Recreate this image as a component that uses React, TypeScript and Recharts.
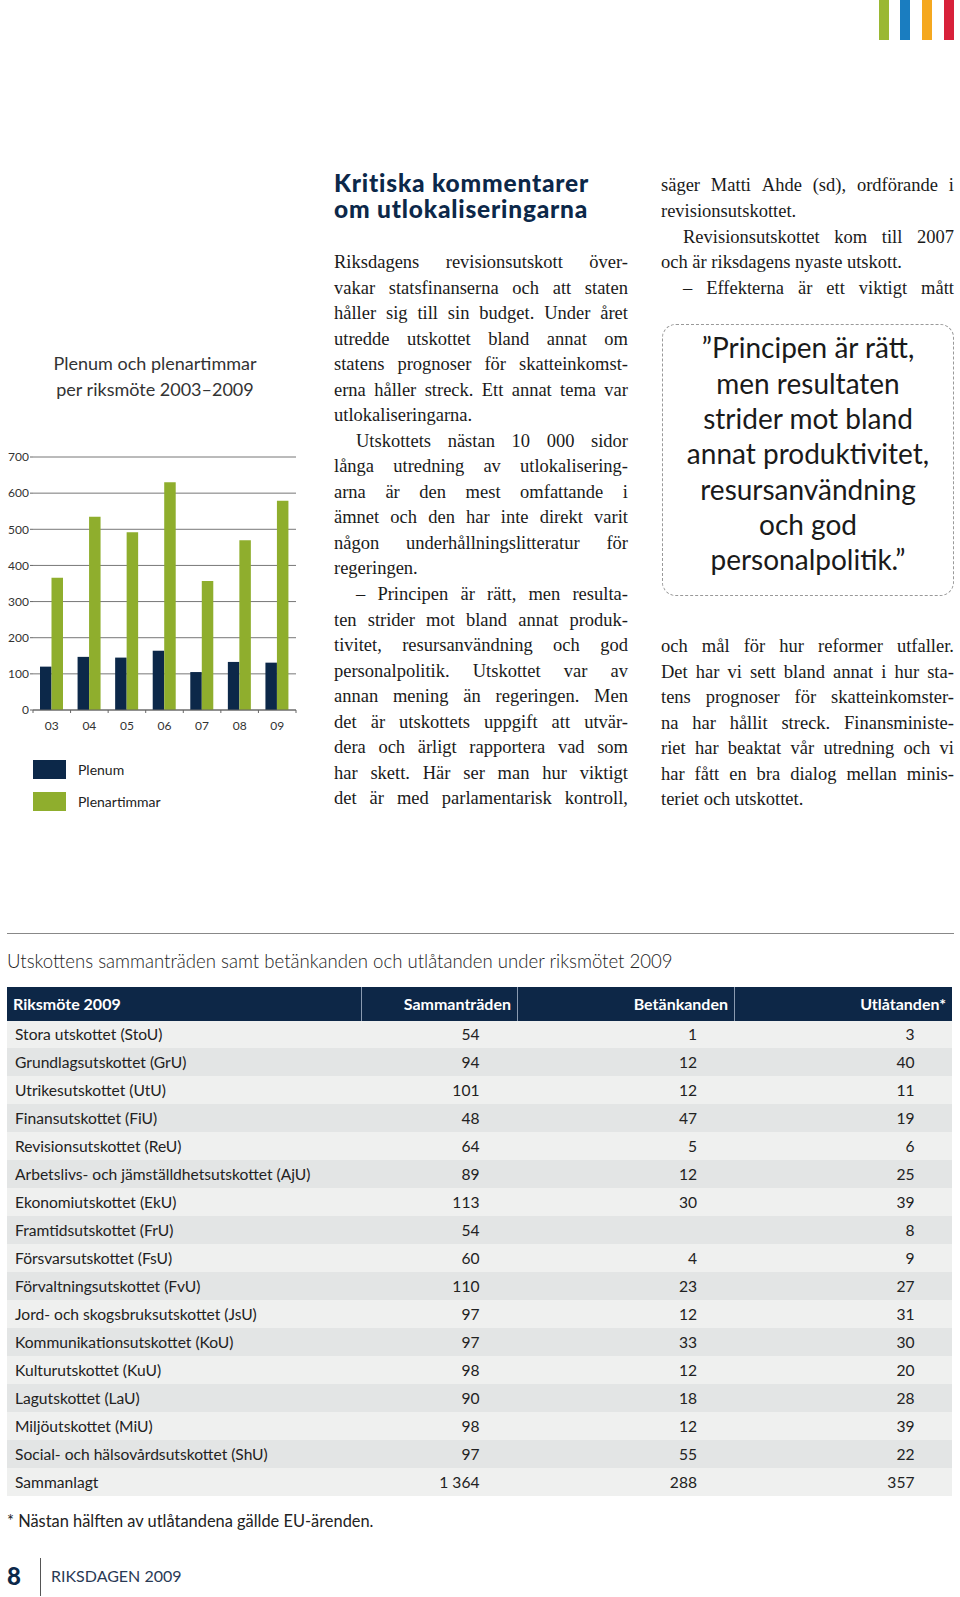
import { BarChart, Bar, XAxis, YAxis, CartesianGrid } from 'recharts';

// chart data
const years = ['03', '04', '05', '06', '07', '08', '09'];
const plenum = [120, 147, 145, 164, 105, 133, 131];
const plenartimmar = [366, 535, 492, 630, 357, 470, 579];
const yTicks = [0, 100, 200, 300, 400, 500, 600, 700];
const seriesNames = ['Plenum', 'Plenartimmar'];

// table data
const committees = [
  'Stora utskottet (StoU)', 'Grundlagsutskottet (GrU)', 'Utrikesutskottet (UtU)',
  'Finansutskottet (FiU)', 'Revisionsutskottet (ReU)',
  'Arbetslivs- och jämställdhetsutskottet (AjU)', 'Ekonomiutskottet (EkU)',
  'Framtidsutskottet (FrU)', 'Försvarsutskottet (FsU)', 'Förvaltningsutskottet (FvU)',
  'Jord- och skogsbruksutskottet (JsU)', 'Kommunikationsutskottet (KoU)',
  'Kulturutskottet (KuU)', 'Lagutskottet (LaU)', 'Miljöutskottet (MiU)',
  'Social- och hälsovårdsutskottet (ShU)', 'Sammanlagt',
];
const sammantraden = ['54', '94', '101', '48', '64', '89', '113', '54', '60', '110', '97', '97', '98', '90', '98', '97', '1 364'];
const betankanden = ['1', '12', '12', '47', '5', '12', '30', '', '4', '23', '12', '33', '12', '18', '12', '55', '288'];
const utlatanden = ['3', '40', '11', '19', '6', '25', '39', '8', '9', '27', '31', '30', '20', '28', '39', '22', '357'];
const tableHead = ['Riksmöte 2009', 'Sammanträden', 'Betänkanden', 'Utlåtanden*'];

const chartData = years.map((y, i) => ({ year: y, plenum: plenum[i], timmar: plenartimmar[i] }));

const NAVY = '#0c2849';
const GREEN = '#8fae2d';
const SANS = 'Lato, "Noto Sans", sans-serif';
const SERIF = '"Liberation Serif", "DejaVu Serif", serif';

// body text, line by line: j = justified, i = indented
type Ln = { t: string; j?: boolean; i?: boolean };
const midLines: Ln[] = [
  { t: 'Riksdagens revisionsutskott över-', j: true },
  { t: 'vakar statsfinanserna och att staten', j: true },
  { t: 'håller sig till sin budget. Under året', j: true },
  { t: 'utredde utskottet bland annat om', j: true },
  { t: 'statens prognoser för skatteinkomst-', j: true },
  { t: 'erna håller streck. Ett annat tema var', j: true },
  { t: 'utlokaliseringarna.' },
  { t: 'Utskottets nästan 10 000 sidor', j: true, i: true },
  { t: 'långa utredning av utlokalisering-', j: true },
  { t: 'arna är den mest omfattande i', j: true },
  { t: 'ämnet och den har inte direkt varit', j: true },
  { t: 'någon underhållningslitteratur för', j: true },
  { t: 'regeringen.' },
  { t: '– Principen är rätt, men resulta-', j: true, i: true },
  { t: 'ten strider mot bland annat produk-', j: true },
  { t: 'tivitet, resursanvändning och god', j: true },
  { t: 'personalpolitik. Utskottet var av', j: true },
  { t: 'annan mening än regeringen. Men', j: true },
  { t: 'det är utskottets uppgift att utvär-', j: true },
  { t: 'dera och ärligt rapportera vad som', j: true },
  { t: 'har skett. Här ser man hur viktigt', j: true },
  { t: 'det är med parlamentarisk kontroll,', j: true },
];
const rightTop: Ln[] = [
  { t: 'säger Matti Ahde (sd), ordförande i', j: true },
  { t: 'revisionsutskottet.' },
  { t: 'Revisionsutskottet kom till 2007', j: true, i: true },
  { t: 'och är riksdagens nyaste utskott.' },
  { t: '– Effekterna är ett viktigt mått', j: true, i: true },
];
const rightBottom: Ln[] = [
  { t: 'och mål för hur reformer utfaller.', j: true },
  { t: 'Det har vi sett bland annat i hur sta-', j: true },
  { t: 'tens prognoser för skatteinkomster-', j: true },
  { t: 'na har hållit streck. Finansministe-', j: true },
  { t: 'riet har beaktat vår utredning och vi', j: true },
  { t: 'har fått en bra dialog mellan minis-', j: true },
  { t: 'teriet och utskottet.' },
];
const quoteLines = ['”Principen är rätt,', 'men resultaten', 'strider mot bland', 'annat produktivitet,', 'resursanvändning', 'och god', 'personalpolitik.”'];
const headingLines = ['Kritiska kommentarer', 'om utlokaliseringarna'];

function TextBlock({ lines, left, top, width }: { lines: Ln[]; left: number; top: number; width: number }) {
  const lh = 25.54;
  return (
    <div style={{ position: 'absolute', left, top: top - lh / 2, width, fontFamily: SERIF, fontSize: 18.5, color: '#1a1a1a' }}>
      {lines.map((l, k) => (
        <div key={k} style={{
          height: lh, display: 'flex', alignItems: 'center', whiteSpace: 'nowrap',
          justifyContent: l.j ? 'space-between' : 'flex-start', paddingLeft: l.i ? 22 : 0,
        }}>
          {l.j ? l.t.split(' ').map((w, n) => <span key={n}>{w}</span>) : <span>{l.t}</span>}
        </div>
      ))}
    </div>
  );
}

function YearTick(props: any) {
  const { x, y, payload } = props;
  const half = payload?.offset ?? 0;
  return (
    <g>
      {payload.index === 0 && <line x1={x - half} x2={x - half} y1={y} y2={y + 3} stroke="#666" />}
      <line x1={x + half} x2={x + half} y1={y} y2={y + 3} stroke="#666" />
      <text x={x} y={y + 15} textAnchor="middle" dominantBaseline="central" fontSize={12} fill="#333" fontFamily={SANS}>
        {payload.value}
      </text>
    </g>
  );
}

export default function App() {
  const abs = (left: number, top: number, extra: any = {}) => ({ position: 'absolute' as const, left, top, ...extra });
  return (
    <div style={{ position: 'absolute', left: 0, top: 0, width: 960, height: 1597, background: '#fff', overflow: 'hidden', fontFamily: SANS }}>
      {/* colour bars */}
      <div style={abs(879, 0, { width: 10, height: 40, background: '#9ab833' })} />
      <div style={abs(900, 0, { width: 10, height: 40, background: '#1a7dc0' })} />
      <div style={abs(922, 0, { width: 10, height: 40, background: '#f5a81f' })} />
      <div style={abs(944, 0, { width: 10, height: 40, background: '#d8213a' })} />

      {/* chart title */}
      <div style={abs(0, 350, { width: 310, textAlign: 'center', fontSize: 18, lineHeight: '26px', color: '#333' })}>
        Plenum och plenartimmar<br />per riksmöte 2003–2009
      </div>

      <div style={abs(0, 440)}>
        <BarChart width={310} height={300} data={chartData} margin={{ top: 17, right: 14, left: 0, bottom: 0 }} barGap={0}>
          <CartesianGrid vertical={false} stroke="#777" />
          <XAxis
            dataKey="year" height={30} tickSize={0} tickMargin={0} interval={0}
            axisLine={{ stroke: '#666' }} tickLine={false} tick={<YearTick />}
          />
          <YAxis
            domain={[0, 700]} ticks={yTicks} interval={0} width={33} tickSize={3} tickMargin={1}
            axisLine={false} tickLine={{ stroke: '#666' }}
            tick={{ fill: '#333', fontSize: 12, fontFamily: SANS }}
          />
          <Bar dataKey="plenum" name={seriesNames[0]} fill={NAVY} barSize={11.5} isAnimationActive={false} />
          <Bar dataKey="timmar" name={seriesNames[1]} fill={GREEN} barSize={11.5} isAnimationActive={false} />
        </BarChart>
      </div>

      {/* legend */}
      {seriesNames.map((n, k) => (
        <div key={n}>
          <div style={abs(33, 760 + k * 32, { width: 33, height: 19, background: k === 0 ? NAVY : GREEN })} />
          <div style={abs(78, 760 + k * 32, { height: 19, lineHeight: '19px', fontSize: 14, color: '#222' })}>{n}</div>
        </div>
      ))}

      {/* heading */}
      {headingLines.map((h, k) => (
        <div key={h} style={abs(334, 170 + k * 26, { fontSize: 24.5, lineHeight: '26px', height: 26, letterSpacing: 0.8, fontWeight: 900, color: NAVY, whiteSpace: 'nowrap' })}>
          {h}
        </div>
      ))}

      <TextBlock lines={midLines} left={334} top={262.6} width={294} />
      <TextBlock lines={rightTop} left={661} top={186} width={293} />
      <TextBlock lines={rightBottom} left={661} top={646.5} width={293} />

      {/* quote box */}
      <div style={abs(662, 324, { width: 290, height: 270, border: '1px dashed #999', borderRadius: 14 })} />
      {quoteLines.map((q, k) => (
        <div key={k} style={abs(662, 348 + k * 35.3 - 17.65, { width: 292, height: 35.3, lineHeight: '35.3px', textAlign: 'center', fontSize: 28, color: '#1a1a1a' })}>
          {q}
        </div>
      ))}

      {/* table */}
      <div style={abs(7, 933, { width: 947, height: 1, background: '#888' })} />
      <div style={abs(7, 950, { fontSize: 18.6, lineHeight: '22px', color: '#222', fontWeight: 300 })}>
        Utskottens sammanträden samt betänkanden och utlåtanden under riksmötet 2009
      </div>
      <div style={abs(7, 987, { width: 945, height: 33.5, background: '#0d2747', display: 'flex', color: '#fff', fontSize: 16, fontWeight: 700 })}>
        {tableHead.map((h, k) => (
          <div key={h} style={{
            width: [353.5, 156.5, 217, 218][k], lineHeight: '33.5px', textAlign: k === 0 ? 'left' : 'right',
            paddingLeft: k === 0 ? 6 : 0, paddingRight: k === 0 ? 0 : 6, boxSizing: 'border-box',
            borderLeft: k === 0 ? 'none' : '1px solid #8a9ab0',
          }}>{h}</div>
        ))}
      </div>
      {committees.map((c, r) => (
        <div key={c} style={abs(7, 1020.5 + r * 27.96, {
          width: 945, height: 27.96, display: 'flex', alignItems: 'center', fontSize: 15.6, color: '#222',
          background: r % 2 === 0 ? '#eff0ef' : '#e3e5e5',
        })}>
          <div style={{ width: 353.5, paddingLeft: 8, boxSizing: 'border-box' }}>{c}</div>
          <div style={{ width: 119, textAlign: 'right' }}>{sammantraden[r]}</div>
          <div style={{ width: 217.5, textAlign: 'right' }}>{betankanden[r]}</div>
          <div style={{ width: 217.5, textAlign: 'right' }}>{utlatanden[r]}</div>
        </div>
      ))}
      <div style={abs(7, 1510, { fontSize: 16.4, lineHeight: '22px', color: '#222' })}>
        * Nästan hälften av utlåtandena gällde EU-ärenden.
      </div>

      {/* footer */}
      <div style={abs(7, 1562, { fontSize: 24, fontWeight: 900, color: NAVY, lineHeight: '28px' })}>8</div>
      <div style={abs(40, 1558, { width: 1, height: 38, background: '#555' })} />
      <div style={abs(51, 1566, { fontSize: 16, lineHeight: '20px', color: '#2a3a55' })}>RIKSDAGEN 2009</div>
    </div>
  );
}
